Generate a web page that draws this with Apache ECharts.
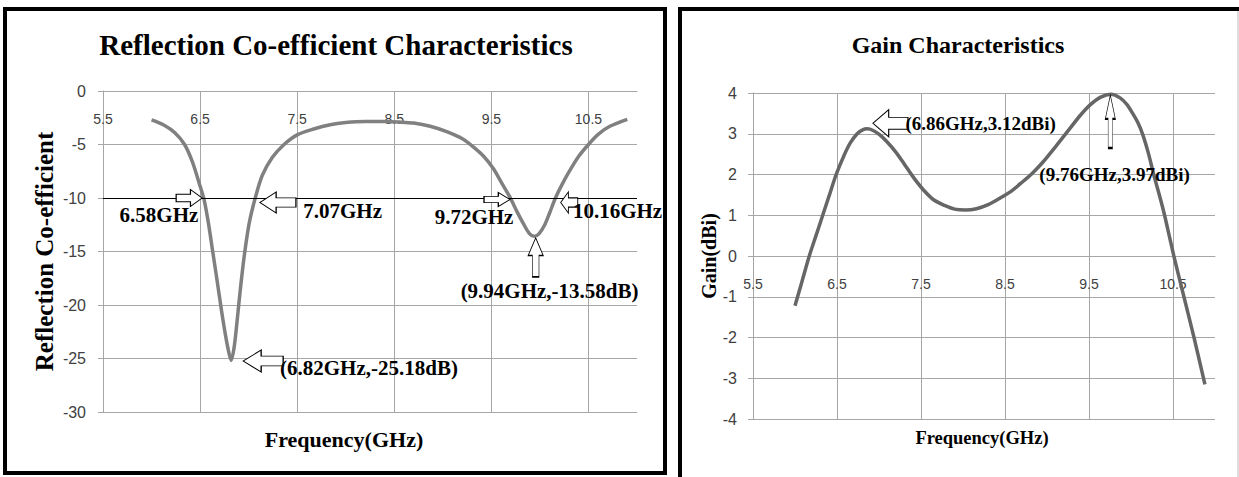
<!DOCTYPE html>
<html>
<head>
<meta charset="utf-8">
<script src="https://cdn.jsdelivr.net/npm/echarts@6/dist/echarts.min.js"></script>
<style>
html,body{margin:0;padding:0;background:#fff;}
#c{width:1239px;height:477px;}
</style>
</head>
<body>
<div id="c"></div>
<script>
// ---- data ----
const xTicks = [5.5, 6.5, 7.5, 8.5, 9.5, 10.5];

const s11Freq = [6.0, 6.13, 6.24, 6.34, 6.42, 6.49, 6.54, 6.585, 6.63, 6.675,
  6.72, 6.765, 6.80, 6.82, 6.85, 6.88, 6.915, 6.955, 7.005, 7.065,
  7.14, 7.245, 7.365, 7.5, 7.67, 7.84, 8.0, 8.2, 8.4, 8.55,
  8.7, 8.87, 9.04, 9.21, 9.31, 9.42, 9.52, 9.6, 9.69, 9.76,
  9.83, 9.89, 9.94, 9.99, 10.05, 10.1, 10.16, 10.23, 10.31, 10.4,
  10.5, 10.6, 10.72, 10.9];
const s11Val = [-2.7, -3.2, -3.9, -5.0, -6.6, -8.6, -10.1, -12.3, -15.0, -17.7,
  -20.5, -23.0, -24.6, -25.18, -24.0, -21.6, -18.5, -15.4, -12.4, -10.1,
  -7.9, -6.2, -5.0, -4.1, -3.55, -3.15, -2.95, -2.85, -2.85, -2.9,
  -3.0, -3.3, -3.8, -4.5, -5.2, -6.1, -7.25, -8.5, -9.9, -11.2,
  -12.4, -13.3, -13.58, -13.35, -12.5, -11.4, -10.0, -8.7, -7.4, -6.1,
  -5.0, -4.05, -3.3, -2.65];

const gainFreq = [6.0, 6.08, 6.17, 6.25, 6.33, 6.41, 6.49, 6.58, 6.66, 6.74,
  6.8, 6.86, 6.93, 7.01, 7.1, 7.2, 7.3, 7.41, 7.53, 7.65,
  7.78, 7.9, 8.03, 8.16, 8.3, 8.44, 8.58, 8.72, 8.82, 8.95,
  9.1, 9.25, 9.4, 9.52, 9.64, 9.76, 9.87, 9.95, 10.02, 10.08,
  10.14, 10.21, 10.27, 10.34, 10.4, 10.51, 10.63, 10.75, 10.88];
const gainVal = [-1.22, -0.65, 0.0, 0.5, 1.0, 1.5, 2.0, 2.45, 2.78, 3.0,
  3.09, 3.12, 3.08, 2.97, 2.79, 2.55, 2.26, 1.93, 1.62, 1.38,
  1.24, 1.15, 1.13, 1.16, 1.26, 1.42, 1.6, 1.84, 2.02, 2.3,
  2.68, 3.07, 3.46, 3.72, 3.9, 3.97, 3.88, 3.72, 3.5, 3.28,
  2.98, 2.5, 2.0, 1.48, 1.0, 0.0, -1.0, -2.0, -3.15];

const s11NoteText = ['6.58GHz', '7.07GHz', '9.72GHz', '10.16GHz', '(9.94GHz,-13.58dB)', '(6.82GHz,-25.18dB)'];
const s11NoteAt = [[6.58, -10], [7.07, -10], [9.72, -10], [10.16, -10], [9.94, -13.58], [6.82, -25.18]];
const gainNoteText = ['(6.86GHz,3.12dBi)', '(9.76GHz,3.97dBi)'];
const gainNoteAt = [[6.86, 3.12], [9.76, 3.97]];

// ---- styling / layout of annotations (pixels) ----
const s11NoteStyle = [
  {rot: 0,   size: [26, 17], off: [-18.7, 0],   textOff: [-48.9, 17]},
  {rot: 180, size: [36, 21], off: [22.5, 4.5],  textOff: [87.2, 13]},
  {rot: 0,   size: [26, 14], off: [-15.7, 1.5], textOff: [-38.7, 18.5]},
  {rot: 180, size: [17, 21], off: [13.8, 4.5],  textOff: [62.1, 13]},
  {rot: 90,  size: [39, 15], off: [1.6, 21.1],  textOff: [15.5, 54.7]},
  {rot: 180, size: [40, 22], off: [32, 0.6],    textOff: [137.8, 7.6]}
];
const gainNoteStyle = [
  {rot: 180, size: [35, 27], off: [23.2, -5.6], textOff: [113.4, -4.9]},
  {rot: 90,  size: [53, 10], off: [-0.5, 27.3], textOff: [3.7, 79.8]}
];

const ARROW = 'path://M0,28L55,28L55,0L100,50L55,100L55,72L0,72Z';
const SERIF = "'Liberation Serif', 'Times New Roman', serif";
const SANS = "'Liberation Sans', Arial, sans-serif";
const GRID = '#a6a6a6';

function notePoints(texts, coords, styles, fontSize) {
  const pts = [];
  texts.forEach((t, i) => {
    const st = styles[i];
    pts.push({
      name: t + '-arrow', coord: coords[i],
      symbol: ARROW, symbolSize: st.size, symbolRotate: st.rot, symbolOffset: st.off,
      itemStyle: {color: '#fff', borderColor: '#000', borderWidth: 1},
      label: {show: false}
    });
    pts.push({
      name: t, coord: coords[i],
      symbol: 'rect', symbolSize: 1,
      itemStyle: {color: 'rgba(0,0,0,0)'},
      label: {
        show: true, position: 'inside', offset: st.textOff, formatter: t,
        fontFamily: SERIF, fontWeight: 'bold', fontSize: fontSize, color: '#000'
      }
    });
  });
  return pts;
}

// x axis drawn at the value 0 of the y axis (top of left plot, middle of right plot)
function xAxisCfg(gridIndex, position, offset, inside) {
  return {
    type: 'value', gridIndex: gridIndex, min: 5.5, max: 11,
    position: position, offset: offset,
    axisLine: {show: true, onZero: false, lineStyle: {color: GRID, width: 1}},
    axisTick: {show: false, customValues: xTicks},
    axisLabel: {customValues: xTicks, inside: inside, margin: 21, fontFamily: SANS, fontSize: 14, color: '#404040'},
    splitLine: {show: true, lineStyle: {color: GRID, width: 1}}
  };
}

const chart = echarts.init(document.getElementById('c'), null, {renderer: 'svg'});
chart.setOption({
  animation: false,
  backgroundColor: '#fff',
  title: [
    {text: 'Reflection Co-efficient Characteristics', left: 336, top: 45, textAlign: 'center', textVerticalAlign: 'middle', padding: 0,
      textStyle: {fontFamily: SERIF, fontWeight: 'bold', fontSize: 29, color: '#000'}},
    {text: 'Gain Characteristics', left: 958, top: 45, textAlign: 'center', textVerticalAlign: 'middle', padding: 0,
      textStyle: {fontFamily: SERIF, fontWeight: 'bold', fontSize: 24, color: '#000'}},
    {text: 'Frequency(GHz)', left: 344, top: 439, textAlign: 'center', textVerticalAlign: 'middle', padding: 0,
      textStyle: {fontFamily: SERIF, fontWeight: 'bold', fontSize: 22, color: '#000'}},
    {text: 'Frequency(GHz)', left: 982, top: 438, textAlign: 'center', textVerticalAlign: 'middle', padding: 0,
      textStyle: {fontFamily: SERIF, fontWeight: 'bold', fontSize: 18.5, color: '#000'}}
  ],
  graphic: [
    {type: 'rect', silent: true, shape: {x: 5, y: 9, width: 660, height: 464}, style: {fill: 'none', stroke: '#000', lineWidth: 4}},
    {type: 'rect', silent: true, shape: {x: 680, y: 9, width: 640, height: 520}, style: {fill: 'none', stroke: '#000', lineWidth: 4}},
    {type: 'line', silent: true, shape: {x1: 1238, y1: 11, x2: 1238, y2: 477}, style: {stroke: '#bbbbbb', lineWidth: 1}}
  ],
  grid: [
    {left: 103, top: 91, width: 534, height: 321},
    {left: 753, top: 93, width: 462, height: 326}
  ],
  xAxis: [xAxisCfg(0, 'top', 0, true), xAxisCfg(1, 'bottom', -163, false)],
  yAxis: [
    {type: 'value', gridIndex: 0, min: -30, max: 0, interval: 5,
      name: 'Reflection Co-efficient', nameLocation: 'middle', nameRotate: 90, nameGap: 46,
      nameTextStyle: {fontFamily: SERIF, fontWeight: 'bold', fontSize: 25, color: '#000'},
      axisLine: {show: true, onZero: false, lineStyle: {color: GRID, width: 1}},
      axisTick: {show: true, length: 5, lineStyle: {color: GRID}},
      axisLabel: {margin: 17, fontFamily: SANS, fontSize: 16, color: '#404040'},
      splitLine: {show: true, lineStyle: {color: GRID, width: 1}}},
    {type: 'value', gridIndex: 1, min: -4, max: 4, interval: 1,
      name: 'Gain(dBi)', nameLocation: 'middle', nameRotate: 90, nameGap: 30,
      nameTextStyle: {fontFamily: SERIF, fontWeight: 'bold', fontSize: 20, color: '#000'},
      axisLine: {show: true, onZero: false, lineStyle: {color: GRID, width: 1}},
      axisTick: {show: true, length: 5, lineStyle: {color: GRID}},
      axisLabel: {margin: 16, fontFamily: SANS, fontSize: 16, color: '#404040'},
      splitLine: {show: true, lineStyle: {color: GRID, width: 1}}}
  ],
  series: [
    {type: 'line', name: 'Reflection Co-efficient', xAxisIndex: 0, yAxisIndex: 0,
      data: s11Freq.map((f, i) => [f, s11Val[i]]),
      smooth: 0.3, showSymbol: false, silent: true,
      lineStyle: {color: '#808080', width: 3.5},
      markLine: {silent: true, symbol: 'none', label: {show: false},
        lineStyle: {color: '#000', width: 1.2, type: 'solid'}, data: [{yAxis: -10}]},
      markPoint: {silent: true, data: notePoints(s11NoteText, s11NoteAt, s11NoteStyle, 21)}},
    {type: 'line', name: 'Gain', xAxisIndex: 1, yAxisIndex: 1,
      data: gainFreq.map((f, i) => [f, gainVal[i]]),
      smooth: 0.3, showSymbol: false, silent: true,
      lineStyle: {color: '#666666', width: 3.5},
      markPoint: {silent: true, data: notePoints(gainNoteText, gainNoteAt, gainNoteStyle, 19)}}
  ]
});
</script>
</body>
</html>
